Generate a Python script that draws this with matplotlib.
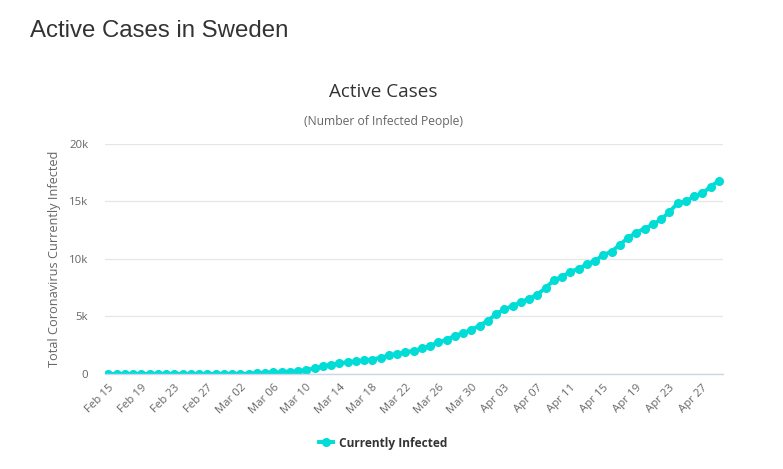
import matplotlib
matplotlib.use("Agg")
import matplotlib.pyplot as plt
from matplotlib.ticker import FuncFormatter, FixedLocator
import datetime as dt

# days from Feb 15 to Apr 29, 2020
start_date = dt.date(2020, 2, 15)
n_days = 75
dates = [start_date + dt.timedelta(days=i) for i in range(n_days)]

# active cases
active_cases = [
    0, 0, 0, 0, 0, 0, 0, 0, 0, 0, 0, 0,          # Feb 15 - Feb 26
    1, 6, 11, 13, 14, 29,                        # Feb 27 - Mar 03
    51, 93, 136, 160, 202, 247,                  # Mar 04 - Mar 09
    353, 497, 684, 806, 951, 1010, 1089,         # Mar 10 - Mar 16
    1174, 1259, 1418, 1612, 1733, 1897, 2004,    # Mar 17 - Mar 23
    2220, 2450, 2760, 2975, 3330, 3560, 3850,    # Mar 24 - Mar 30
    4200, 4650, 5200, 5650, 5900, 6250, 6550,    # Mar 31 - Apr 06
    6900, 7500, 8150, 8450, 8900, 9150, 9550,    # Apr 07 - Apr 13
    9850, 10350, 10650, 11250, 11850, 12300,     # Apr 14 - Apr 19
    12650, 13000, 13450, 14100, 14850, 15000,    # Apr 20 - Apr 25
    15450, 15700, 16300, 16800,                  # Apr 26 - Apr 29
]

y_ticks = [0, 5000, 10000, 15000, 20000]
x_tick_idx = list(range(0, n_days, 4))
x_tick_labels = [dates[i].strftime("%b %d") for i in x_tick_idx]

page_title = "Active Cases in Sweden"
chart_title = "Active Cases"
chart_subtitle = "(Number of Infected People)"
y_label = "Total Coronavirus Currently Infected"
series_name = "Currently Infected"

line_color = "#00dcd6"
text_gray = "#666666"

fig = plt.figure(figsize=(7.83, 4.69), dpi=100)
fig.patch.set_facecolor("white")

ax = fig.add_axes([0.1341, 0.2026, 0.7893, 0.4904])
x = list(range(n_days))
line, = ax.plot(x, active_cases, color=line_color, linewidth=2.8,
                marker="o", markersize=5.5, label=series_name)

ax.set_xlim(-0.4, n_days - 0.5)
ax.set_ylim(0, 20000)

ax.yaxis.set_major_locator(FixedLocator(y_ticks))
ax.yaxis.set_major_formatter(FuncFormatter(lambda v, p: "0" if v == 0 else "%dk" % (v / 1000)))
ax.grid(axis="y", color="#e6e6e6", linewidth=0.9)
ax.set_axisbelow(True)

ax.set_xticks(x_tick_idx)
ax.set_xticklabels(x_tick_labels, rotation=45, ha="right", va="top",
                   rotation_mode="anchor")

for s in ["top", "right", "left"]:
    ax.spines[s].set_visible(False)
ax.spines["bottom"].set_color("#ccd6eb")
ax.spines["bottom"].set_linewidth(1.0)

ax.tick_params(axis="x", length=0, pad=6, labelsize=8.2, labelcolor=text_gray)
ax.tick_params(axis="y", length=0, pad=12, labelsize=8.2, labelcolor=text_gray)
for lbl in ax.get_xticklabels() + ax.get_yticklabels():
    lbl.set_fontfamily("Open Sans")

ax.set_ylabel(y_label, fontsize=9.2, color=text_gray, family="Open Sans")
ax.yaxis.set_label_coords(-0.072, 0.5)

fig.text(30 / 783, 1 - 31 / 469, page_title, fontsize=17.3, color="#333333",
         family="Liberation Sans", ha="left", va="center")
fig.text(383 / 783, 1 - 92 / 469, chart_title, fontsize=13.6, color="#333333",
         family="Open Sans", ha="center", va="center")
fig.text(383 / 783, 1 - 122 / 469, chart_subtitle, fontsize=8.7, color=text_gray,
         family="Open Sans", ha="center", va="center")

leg = fig.legend(handles=[line], loc="center", bbox_to_anchor=(383 / 783, 1 - 443 / 469),
                 frameon=False, handlelength=1.2, handletextpad=0.5,
                 prop={"family": "Open Sans", "weight": "bold", "size": 8.6})
for t in leg.get_texts():
    t.set_color("#333333")

fig.savefig("out.png", dpi=100)
